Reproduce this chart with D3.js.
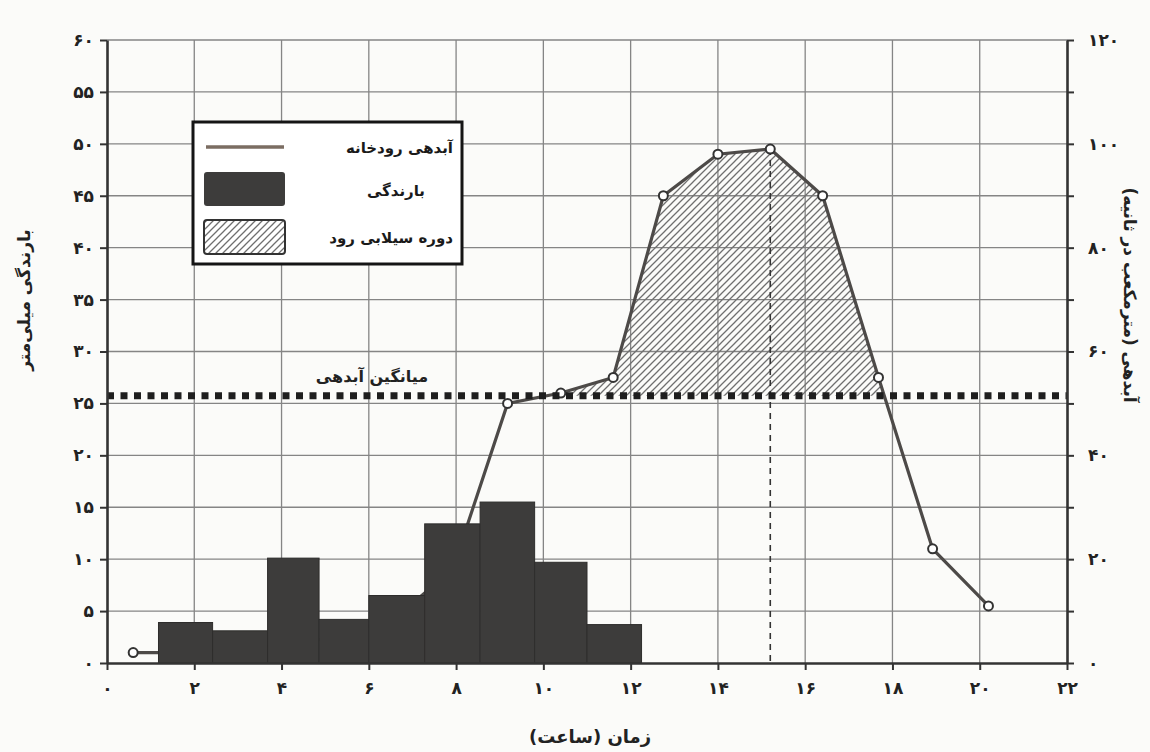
<!DOCTYPE html>
<html>
<head>
<meta charset="utf-8">
<script src="https://cdn.jsdelivr.net/npm/d3@7"></script>
<style>
body { margin: 0; background: #fbfbf9; }
text { font-family: "DejaVu Sans", sans-serif; }
</style>
</head>
<body>
<svg id="chart" width="1150" height="752"></svg>
<script>
// hydrograph (hours, m3/s)
const hours = [0.6, 1.8, 3.05, 4.27, 5.45, 6.65, 7.92, 9.18, 10.4, 11.6, 12.75, 14.0, 15.2, 16.4, 17.68, 18.92, 20.2];
const flow = [2, 2, 3, 3.5, 5.5, 9, 18, 50, 52, 55, 90, 98, 99, 90, 55, 22, 11];
// rainfall (interval edges in hours, mm)
const rainEdges = [1.18, 2.42, 3.68, 4.86, 6.0, 7.28, 8.55, 9.8, 11.0, 12.25];
const rain = [3.9, 3.1, 10.1, 4.2, 6.5, 13.4, 15.5, 9.7, 3.7];
const meanFlow = 51.5;
const xTicks = [0, 2, 4, 6, 8, 10, 12, 14, 16, 18, 20, 22];
const rainTicks = [0, 5, 10, 15, 20, 25, 30, 35, 40, 45, 50, 55, 60];
const flowTicks = [0, 10, 20, 30, 40, 50, 60, 70, 80, 90, 100, 110, 120];

const fa = n => String(n).replace(/\d/g, d => "۰۱۲۳۴۵۶۷۸۹"[d]);

const margin = { top: 40, right: 83, bottom: 89, left: 107 };
const width = 1150, height = 752;
const svg = d3.select("#chart");

const x = d3.scaleLinear().domain([0, 22]).range([margin.left, width - margin.right]);
const yRain = d3.scaleLinear().domain([0, 60]).range([height - margin.bottom, margin.top]);
const yFlow = d3.scaleLinear().domain([0, 120]).range([height - margin.bottom, margin.top]);

// hatch pattern
svg.append("defs").append("pattern")
	.attr("id", "hatch")
	.attr("patternUnits", "userSpaceOnUse")
	.attr("width", 7).attr("height", 7)
	.append("path")
	.attr("d", "M-1,1 l2,-2 M0,7 l7,-7 M6,8 l2,-2")
	.attr("stroke", "#6f6f6f")
	.attr("stroke-width", 1.3);

// grid
svg.append("g")
	.selectAll("line")
	.data(rainTicks.slice(1))
	.join("line")
	.attr("x1", x(0)).attr("x2", x(22))
	.attr("y1", d => yRain(d)).attr("y2", d => yRain(d))
	.attr("stroke", "#858585").attr("stroke-width", 1.3);
svg.append("g")
	.selectAll("line")
	.data(xTicks.slice(1, -1))
	.join("line")
	.attr("x1", d => x(d)).attr("x2", d => x(d))
	.attr("y1", yRain(60)).attr("y2", yRain(0))
	.attr("stroke", "#858585").attr("stroke-width", 1.3);

// flood period area above mean
const pts = hours.map((h, i) => [h, flow[i]]);
const above = [];
for (let i = 0; i < pts.length - 1; i++) {
	const [h0, q0] = pts[i], [h1, q1] = pts[i + 1];
	if (q0 >= meanFlow) above.push([h0, q0]);
	if ((q0 - meanFlow) * (q1 - meanFlow) < 0) {
		const t = (meanFlow - q0) / (q1 - q0);
		above.push([h0 + t * (h1 - h0), meanFlow]);
	}
}
svg.append("path")
	.datum(above)
	.attr("d", d3.area().x(d => x(d[0])).y0(yFlow(meanFlow)).y1(d => yFlow(d[1])))
	.attr("fill", "url(#hatch)");

// peak marker
const peakIdx = d3.maxIndex(flow);
svg.append("line")
	.attr("x1", x(hours[peakIdx])).attr("x2", x(hours[peakIdx]))
	.attr("y1", yFlow(flow[peakIdx])).attr("y2", yFlow(0))
	.attr("stroke", "#333").attr("stroke-width", 1.6)
	.attr("stroke-dasharray", "6,5");

// hydrograph
svg.append("path")
	.datum(pts)
	.attr("d", d3.line().x(d => x(d[0])).y(d => yFlow(d[1])))
	.attr("fill", "none")
	.attr("stroke", "#4d4a48")
	.attr("stroke-width", 3.2);
svg.append("g")
	.selectAll("circle")
	.data(pts)
	.join("circle")
	.attr("cx", d => x(d[0])).attr("cy", d => yFlow(d[1]))
	.attr("r", 4.5)
	.attr("fill", "#fff").attr("stroke", "#333").attr("stroke-width", 2);

// rainfall bars
svg.append("g")
	.selectAll("rect")
	.data(rain)
	.join("rect")
	.attr("x", (d, i) => x(rainEdges[i]))
	.attr("width", (d, i) => x(rainEdges[i + 1]) - x(rainEdges[i]))
	.attr("y", d => yRain(d))
	.attr("height", d => yRain(0) - yRain(d))
	.attr("fill", "#3d3c3b")
	.attr("stroke", "#2e2d2c")
	.attr("stroke-width", 1);

// mean discharge
svg.append("line")
	.attr("x1", x(0)).attr("x2", x(22))
	.attr("y1", yFlow(meanFlow)).attr("y2", yFlow(meanFlow))
	.attr("stroke", "#1e1e1e").attr("stroke-width", 7)
	.attr("stroke-dasharray", "7,6.5");
svg.append("text")
	.attr("x", 372).attr("y", yFlow(meanFlow) - 14)
	.attr("text-anchor", "middle")
	.attr("font-size", 16).attr("font-weight", "bold")
	.attr("fill", "#222")
	.text("میانگین آبدهی");

// axes
const axisStyle = g => {
	g.selectAll(".domain").attr("stroke", "#333").attr("stroke-width", 2.6);
	g.selectAll(".tick line").attr("stroke", "#333").attr("stroke-width", 2);
	g.selectAll("text").attr("font-size", 17).attr("font-weight", "bold").attr("fill", "#222");
};
svg.append("g")
	.attr("transform", `translate(0,${yRain(0)})`)
	.call(d3.axisBottom(x).tickValues(xTicks).tickFormat(fa).tickSize(7).tickPadding(12).tickSizeOuter(0))
	.call(axisStyle);
svg.append("g")
	.attr("transform", `translate(${x(0)},0)`)
	.call(d3.axisLeft(yRain).tickValues(rainTicks).tickFormat(fa).tickSize(7).tickPadding(6).tickSizeOuter(0))
	.call(axisStyle);
svg.append("g")
	.attr("transform", `translate(${x(22)},0)`)
	.call(d3.axisRight(yFlow).tickValues(flowTicks).tickFormat(d => d % 20 === 0 ? fa(d) : "").tickSize(7).tickPadding(14).tickSizeOuter(0))
	.call(axisStyle);

// axis titles
svg.append("text")
	.attr("transform", "translate(30,300) rotate(-90)")
	.attr("text-anchor", "middle")
	.attr("font-size", 17).attr("font-weight", "bold").attr("fill", "#222")
	.text("بارندگی میلی‌متر");
svg.append("text")
	.attr("transform", "translate(1124,295) rotate(90)")
	.attr("text-anchor", "middle")
	.attr("font-size", 17).attr("font-weight", "bold").attr("fill", "#222")
	.text("آبدهی (مترمکعب در ثانیه)");
svg.append("text")
	.attr("x", 590).attr("y", 743)
	.attr("text-anchor", "middle")
	.attr("font-size", 18).attr("font-weight", "bold").attr("fill", "#222")
	.text("زمان (ساعت)");

// legend
const legend = svg.append("g");
legend.append("rect")
	.attr("x", 193).attr("y", 122).attr("width", 269).attr("height", 142)
	.attr("fill", "#fff").attr("stroke", "#151515").attr("stroke-width", 3);
legend.append("line")
	.attr("x1", 206).attr("x2", 284).attr("y1", 147).attr("y2", 147)
	.attr("stroke", "#7b6d62").attr("stroke-width", 3.5);
legend.append("rect")
	.attr("x", 204).attr("y", 172).attr("width", 81).attr("height", 34)
	.attr("rx", 3)
	.attr("fill", "#3d3c3b");
legend.append("rect")
	.attr("x", 204).attr("y", 220).attr("width", 81).attr("height", 34)
	.attr("rx", 3)
	.attr("fill", "url(#hatch)").attr("stroke", "#333").attr("stroke-width", 2);
const legendLabels = ["آبدهی رودخانه", "بارندگی", "دوره سیلابی رود"];
const legendY = [153, 196, 243];
legend.selectAll("text.lab")
	.data(legendLabels)
	.join("text")
	.attr("class", "lab")
	.attr("x", (d, i) => i === 1 ? 425 : 453)
	.attr("y", (d, i) => legendY[i])
	.attr("text-anchor", "end")
	.attr("font-size", 15).attr("font-weight", "bold").attr("fill", "#1a1a1a")
	.text(d => d);
</script>
</body>
</html>
